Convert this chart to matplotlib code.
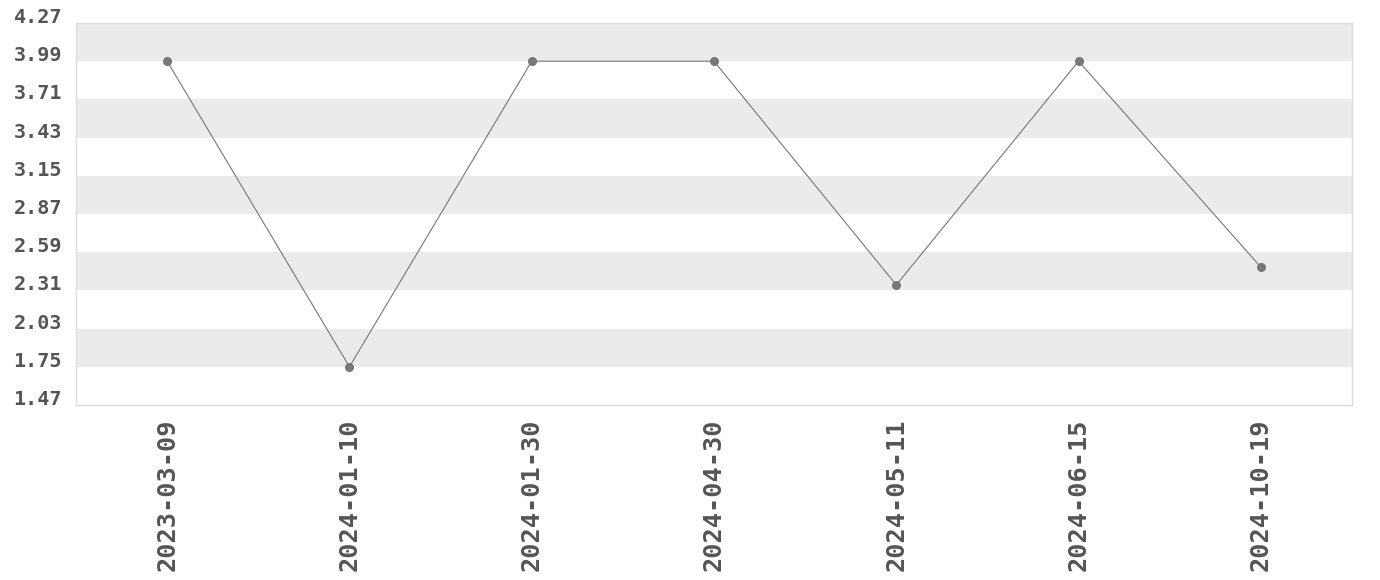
import matplotlib
matplotlib.use("Agg")
import matplotlib.pyplot as plt
import numpy as np

dates = ["2023-03-09", "2024-01-10", "2024-01-30", "2024-04-30", "2024-05-11", "2024-06-15", "2024-10-19"]
values = [3.99, 1.75, 3.99, 3.99, 2.35, 3.99, 2.48]
yticks = [1.47, 1.75, 2.03, 2.31, 2.59, 2.87, 3.15, 3.43, 3.71, 3.99, 4.27]

fig = plt.figure(figsize=(13.8, 5.8), dpi=100)
ax = fig.add_axes([76/1380, 1-405/580, (1352-76)/1380, (405-23)/580])

# alternating bands
for i in range(len(yticks) - 1):
    if i % 2 == 1:
        ax.axhspan(yticks[i], yticks[i+1], color="#ebebeb", lw=0, zorder=0)

x = np.arange(len(dates))
ax.plot(x, values, color="#777777", lw=0.8, marker="o", markersize=5.5,
        markerfacecolor="#777777", markeredgecolor="#777777", zorder=3)

ax.set_xlim(-0.5, len(dates) - 0.5)
ax.set_ylim(yticks[0], yticks[-1])
ax.set_yticks(yticks)
ax.set_yticklabels([f"{t:.2f}" for t in yticks], fontfamily="DejaVu Sans Mono",
                   fontweight="bold", fontsize=14.5, color="#555555", va="baseline")
ax.set_xticks(x)
ax.set_xticklabels(dates, rotation=90, fontfamily="DejaVu Sans Mono",
                   fontweight="bold", fontsize=18.2, color="#555555")
ax.tick_params(axis="both", length=0)
ax.tick_params(axis="y", pad=10)
ax.tick_params(axis="x", pad=10)
for s in ax.spines.values():
    s.set_color("#dddddd")
    s.set_linewidth(1)

fig.savefig("out.png", dpi=100)
